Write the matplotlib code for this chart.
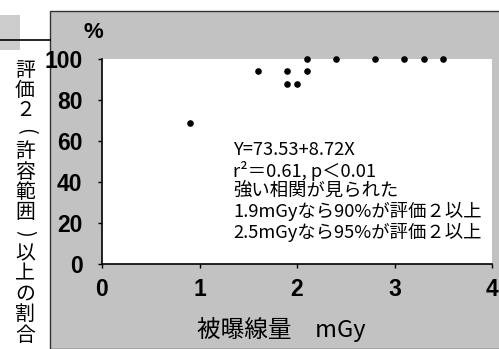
import matplotlib
matplotlib.use("Agg")
import matplotlib.pyplot as plt
from matplotlib import font_manager
from matplotlib.patches import Rectangle

# readings from the scanned chart
dose = [0.9, 1.6, 1.9, 2.1, 1.9, 2.0, 2.1, 2.4, 2.8, 3.1, 3.3, 3.5]
rate = [69, 94, 94, 94, 88, 88, 100, 100, 100, 100, 100, 100]
x_ticks = [0, 1, 2, 3, 4]
y_ticks = [0, 20, 40, 60, 80, 100]
ylabel_chars = ["評", "価", "２", "(", "許", "容", "範", "囲", ")", "以", "上", "の", "割", "合"]
note_lines = [
    "Y=73.53+8.72X",
    "r²＝0.61, p＜0.01",
    "強い相関が見られた",
    "1.9mGyなら90%が評価２以上",
    "2.5mGyなら95%が評価２以上",
]


def pick(names):
    for n in names:
        try:
            font_manager.findfont(n, fallback_to_default=False)
            return n
        except Exception:
            pass
    return "DejaVu Sans"


num_font = pick(["Liberation Sans Narrow", "Liberation Sans"])
jp = ["Noto Sans CJK JP", "DejaVu Sans"]

W, H = 499, 349
fig = plt.figure(figsize=(W / 100, H / 100), dpi=100)
fig.patch.set_facecolor("white")

# scanned grey panel
fig.patches.append(Rectangle((50 / W, 0), 1, (H - 10.5) / H, transform=fig.transFigure,
                             facecolor="#c2c2c2", edgecolor="#333333", lw=1.0, zorder=-10))
fig.patches.append(Rectangle((0, 1 - 50 / H), 20 / W, 35 / H, transform=fig.transFigure,
                             facecolor="#cccccc", edgecolor="none", zorder=-10))
fig.add_artist(plt.Line2D([0, 50 / W], [1 - 40 / H, 1 - 40 / H], transform=fig.transFigure,
                          color="black", lw=1.2))

ax = fig.add_axes([102 / W, (H - 264) / H, 390 / W, 205 / H])
ax.set_facecolor("white")
ax.scatter(dose, rate, s=14, color="black", clip_on=False, zorder=3)
ax.set_xlim(0, 4)
ax.set_ylim(0, 100)
ax.set_xticks(x_ticks)
ax.set_yticks(y_ticks)
for s in ["top", "right"]:
    ax.spines[s].set_visible(False)
for s in ["left", "bottom"]:
    ax.spines[s].set_linewidth(1.2)
ax.tick_params(direction="out", length=3, width=1)
ax.tick_params(axis="x", pad=7)
ax.tick_params(axis="y", pad=11)
for lab in ax.get_xticklabels() + ax.get_yticklabels():
    lab.set_fontfamily(num_font)
    lab.set_fontweight("bold")
    lab.set_fontsize(16.5)

for i, line in enumerate(note_lines):
    ax.text(0.336, 0.556 - i * 0.1, line, transform=ax.transAxes, family=jp,
            fontsize=13.2, va="center", ha="left")

fig.text(93 / W, 1 - 32 / H, "%", family=num_font, fontweight="bold", fontsize=16,
         ha="center", va="center")
fig.text(281 / W, 1 - 330 / H, "被曝線量　mGy", family=jp, fontsize=17,
         ha="center", va="center")
for i, ch in enumerate(ylabel_chars):
    rot = -90 if ch in "()" else 0
    fig.text(25 / W, 1 - (70 + i * 20.4) / H, ch, family=jp, fontsize=14.3,
             ha="center", va="center", rotation=rot)

fig.savefig("out.png", dpi=100)
